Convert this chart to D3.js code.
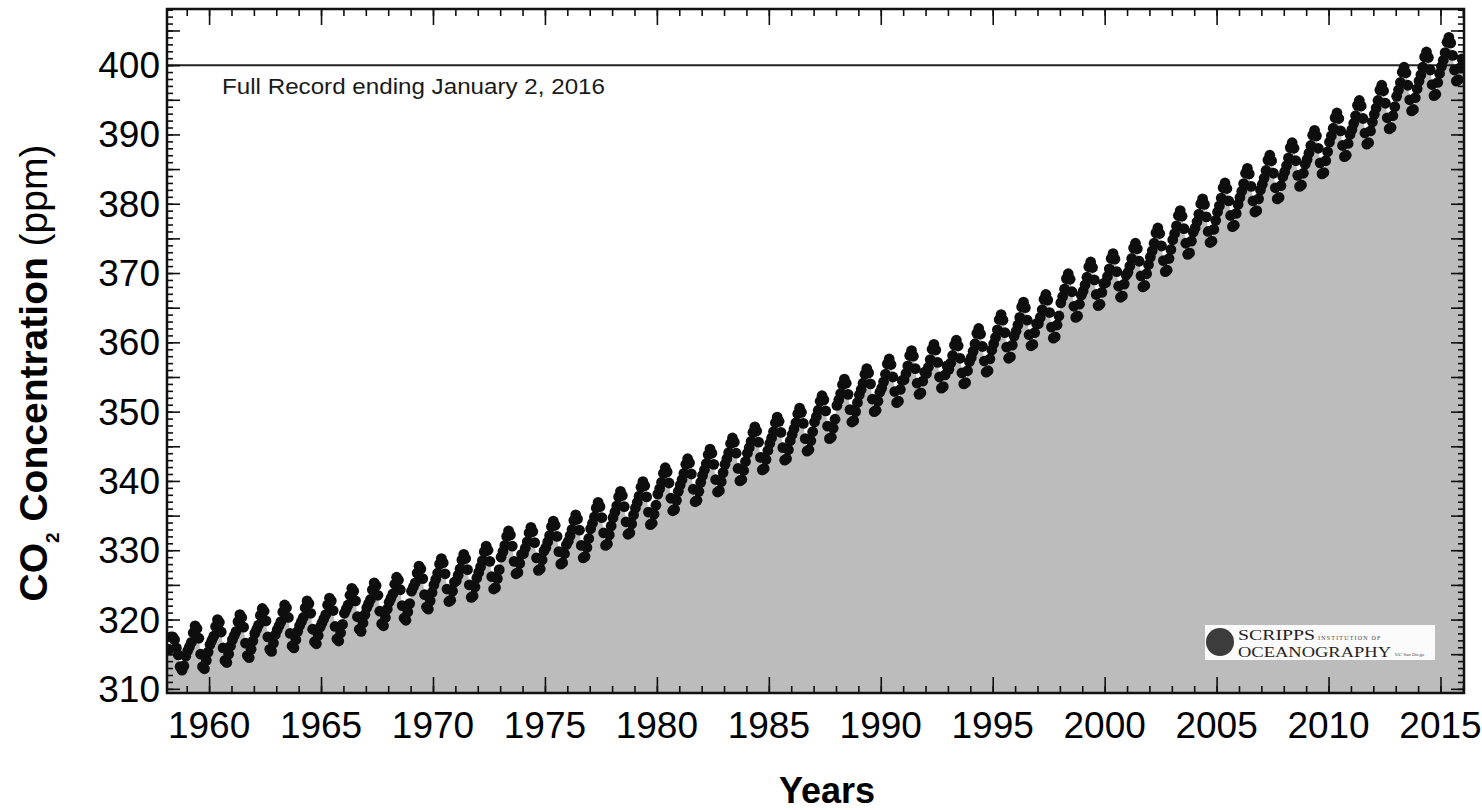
<!DOCTYPE html>
<html lang="en">
<head>
<meta charset="UTF-8">
<title>Keeling Curve – Full Record</title>
<script src="https://d3js.org/d3.v7.min.js"></script>
<style>
  body { margin: 0; background: #fff; }
  svg { display: block; font-family: "Liberation Sans", Arial, Helvetica, sans-serif; }
</style>
</head>
<body>
<script>
// Monthly CO2 (ppm), one array per month, indexed by year
const years = [1958, 1959, 1960, 1961, 1962, 1963, 1964, 1965, 1966, 1967, 1968, 1969,
  1970, 1971, 1972, 1973, 1974, 1975, 1976, 1977, 1978, 1979, 1980, 1981, 1982, 1983, 1984,
  1985, 1986, 1987, 1988, 1989, 1990, 1991, 1992, 1993, 1994, 1995, 1996, 1997, 1998, 1999,
  2000, 2001, 2002, 2003, 2004, 2005, 2006, 2007, 2008, 2009, 2010, 2011, 2012, 2013, 2014, 2015];

const jan = [null, 315.5, 316.4, 317.1, 318.0, 318.5, 319.1, 319.5, 320.9, 321.7, 322.5, 324.1,
  325.0, 325.6, 326.8, 329.0, 329.5, 330.4, 331.3, 333.1, 334.7, 336.1, 338.1, 339.4, 340.8, 342.4, 344.0, 345.4, 346.7, 348.5, 350.9, 352.4,
  353.4, 354.6, 355.5, 356.1, 357.8, 359.8, 361.6, 362.7, 365.7, 367.4, 368.6, 370.1, 372.3, 374.8, 376.5, 378.8, 380.9, 382.8, 384.6, 386.4, 388.9, 390.7, 392.9, 395.5, 397.7, 399.8];
const feb = [null, 316.1, 317.0, 317.7, 318.6, 319.1, 319.7, 320.1, 321.5, 322.3, 323.1, 324.7,
  325.8, 326.4, 327.6, 329.8, 330.3, 331.2, 332.1, 333.9, 335.5, 336.9, 338.9, 340.2, 341.6, 343.2, 344.8, 346.2, 347.5, 349.3, 351.7, 353.2,
  354.3, 355.5, 356.4, 357.0, 358.7, 360.7, 362.5, 363.6, 366.6, 368.3, 369.5, 371.0, 373.2, 375.7, 377.4, 379.7, 381.8, 383.7, 385.5, 387.3, 389.8, 391.6, 393.8, 396.4, 398.6, 400.7];
const mar = [315.7, 316.7, 317.6, 318.3, 319.2, 319.7, 320.3, 320.7, 322.1, 322.9, 323.7, 325.3,
  326.7, 327.3, 328.5, 330.7, 331.2, 332.1, 333.0, 334.8, 336.4, 337.8, 339.8, 341.1, 342.5, 344.1, 345.7, 347.1, 348.4, 350.2, 352.6, 354.1,
  355.4, 356.6, 357.5, 358.1, 359.8, 361.8, 363.6, 364.7, 367.7, 369.4, 370.6, 372.1, 374.3, 376.8, 378.5, 380.8, 382.9, 384.8, 386.6, 388.4, 390.9, 392.7, 394.9, 397.5, 399.7, 401.8];
const apr = [317.5, 318.1, 319.0, 319.7, 320.6, 321.1, 321.7, 322.1, 323.5, 324.3, 325.1, 326.7,
  328.0, 328.6, 329.8, 332.0, 332.5, 333.4, 334.3, 336.1, 337.7, 339.1, 341.1, 342.4, 343.8, 345.4, 347.0, 348.4, 349.7, 351.5, 353.9, 355.4,
  356.9, 358.1, 359.0, 359.6, 361.3, 363.3, 365.1, 366.2, 369.2, 370.9, 372.1, 373.6, 375.8, 378.3, 380.0, 382.3, 384.4, 386.3, 388.1, 389.9, 392.4, 394.2, 396.4, 399.0, 401.2, 403.3];
const may = [317.5, 319.1, 320.0, 320.7, 321.6, 322.1, 322.7, 323.1, 324.5, 325.3, 326.1, 327.7,
  328.8, 329.4, 330.6, 332.8, 333.3, 334.2, 335.1, 336.9, 338.5, 339.9, 341.9, 343.2, 344.6, 346.2, 347.8, 349.2, 350.5, 352.3, 354.7, 356.2,
  357.6, 358.8, 359.7, 360.3, 362.0, 364.0, 365.8, 366.9, 369.9, 371.6, 372.8, 374.3, 376.5, 379.0, 380.7, 383.0, 385.1, 387.0, 388.8, 390.6, 393.1, 394.9, 397.1, 399.7, 401.9, 404.0];
const jun = [317.1, 318.7, 319.6, 320.3, 321.2, 321.7, 322.3, 322.7, 324.1, 324.9, 325.7, 327.3,
  328.2, 328.8, 330.0, 332.2, 332.7, 333.6, 334.5, 336.3, 337.9, 339.3, 341.3, 342.6, 344.0, 345.6, 347.2, 348.6, 349.9, 351.7, 354.1, 355.6,
  356.8, 358.0, 358.9, 359.5, 361.2, 363.2, 365.0, 366.1, 369.1, 370.8, 372.0, 373.5, 375.7, 378.2, 379.9, 382.2, 384.3, 386.2, 388.0, 389.8, 392.3, 394.1, 396.3, 398.9, 401.1, 403.2];
const jul = [315.9, 317.3, 318.2, 318.9, 319.8, 320.3, 320.9, 321.3, 322.7, 323.5, 324.3, 325.9,
  326.6, 327.2, 328.4, 330.6, 331.1, 332.0, 332.9, 334.7, 336.3, 337.7, 339.7, 341.0, 342.4, 344.0, 345.6, 347.0, 348.3, 350.1, 352.5, 354.0,
  355.0, 356.2, 357.1, 357.7, 359.4, 361.4, 363.2, 364.3, 367.3, 369.0, 370.2, 371.7, 373.9, 376.4, 378.1, 380.4, 382.5, 384.4, 386.2, 388.0, 390.5, 392.3, 394.5, 397.1, 399.3, 401.4];
const aug = [314.9, 315.0, 315.9, 316.6, 317.5, 318.0, 318.6, 319.0, 320.4, 321.2, 322.0, 323.6,
  324.4, 325.0, 326.2, 328.4, 328.9, 329.8, 330.7, 332.5, 334.1, 335.5, 337.5, 338.8, 340.2, 341.8, 343.4, 344.8, 346.1, 347.9, 350.3, 351.8,
  352.9, 354.1, 355.0, 355.6, 357.3, 359.3, 361.1, 362.2, 365.2, 366.9, 368.1, 369.6, 371.8, 374.3, 376.0, 378.3, 380.4, 382.3, 384.1, 385.9, 388.4, 390.2, 392.4, 395.0, 397.2, 399.3];
const sep = [313.2, 313.2, 314.1, 314.8, 315.7, 316.2, 316.8, 317.2, 318.6, 319.4, 320.2, 321.8,
  322.6, 323.2, 324.4, 326.6, 327.1, 328.0, 328.9, 330.7, 332.3, 333.7, 335.7, 337.0, 338.4, 340.0, 341.6, 343.0, 344.3, 346.1, 348.5, 350.0,
  351.3, 352.5, 353.4, 354.0, 355.7, 357.7, 359.5, 360.6, 363.6, 365.3, 366.5, 368.0, 370.2, 372.7, 374.4, 376.7, 378.8, 380.7, 382.5, 384.3, 386.8, 388.6, 390.8, 393.4, 395.6, 397.7];
const oct = [312.7, 312.9, 313.8, 314.5, 315.4, 315.9, 316.5, 316.9, 318.3, 319.1, 319.9, 321.5,
  322.8, 323.4, 324.6, 326.8, 327.3, 328.2, 329.1, 330.9, 332.5, 333.9, 335.9, 337.2, 338.6, 340.2, 341.8, 343.2, 344.5, 346.3, 348.7, 350.2,
  351.5, 352.7, 353.6, 354.2, 355.9, 357.9, 359.7, 360.8, 363.8, 365.5, 366.7, 368.2, 370.4, 372.9, 374.6, 376.9, 379.0, 380.9, 382.7, 384.5, 387.0, 388.8, 391.0, 393.6, 395.8, 397.9];
const nov = [313.3, 314.1, 315.0, 315.7, 316.6, 317.1, 317.7, 318.1, 319.5, 320.3, 321.1, 322.7,
  324.1, 324.7, 325.9, 328.1, 328.6, 329.5, 330.4, 332.2, 333.8, 335.2, 337.2, 338.5, 339.9, 341.5, 343.1, 344.5, 345.8, 347.6, 350.0, 351.5,
  353.2, 354.4, 355.3, 355.9, 357.6, 359.6, 361.4, 362.5, 365.5, 367.2, 368.4, 369.9, 372.1, 374.6, 376.3, 378.6, 380.7, 382.6, 384.4, 386.2, 388.7, 390.5, 392.7, 395.3, 397.5, 399.6];
const dec = [314.7, 315.3, 316.2, 316.9, 317.8, 318.3, 318.9, 319.3, 320.7, 321.5, 322.3, 323.9,
  325.4, 326.0, 327.2, 329.4, 329.9, 330.8, 331.7, 333.5, 335.1, 336.5, 338.5, 339.8, 341.2, 342.8, 344.4, 345.8, 347.1, 348.9, 351.3, 352.8,
  354.5, 355.7, 356.6, 357.2, 358.9, 360.9, 362.7, 363.8, 366.8, 368.5, 369.7, 371.2, 373.4, 375.9, 377.6, 379.9, 382.0, 383.9, 385.7, 387.5, 390.0, 391.8, 394.0, 396.6, 398.8, 400.9];

const months = [jan, feb, mar, apr, may, jun, jul, aug, sep, oct, nov, dec];

const xTickLabels = [1960, 1965, 1970, 1975, 1980, 1985, 1990, 1995, 2000, 2005, 2010, 2015];
const yTickLabels = [310, 320, 330, 340, 350, 360, 370, 380, 390, 400];
const refLevel = 400;
const noteText = "Full Record ending January 2, 2016";

const width = 1482;
const height = 810;
const plot = { left: 167, right: 1464, top: 9, bottom: 693 };

// monthly points, placed mid-month
const series = [];
years.forEach((yr, i) => {
    months.forEach((col, m) => {
        if (col[i] != null) series.push({ t: yr + (m + 0.5) / 12, v: col[i] });
    });
});

const x = d3.scaleLinear().domain([1958.12, 2016.05]).range([plot.left, plot.right]);
const y = d3.scaleLinear().domain([309.4, 408.1]).range([plot.bottom, plot.top]);

const svg = d3.select("body").append("svg")
    .attr("width", width)
    .attr("height", height);

svg.append("rect").attr("width", width).attr("height", height).attr("fill", "#fff");

svg.append("clipPath").attr("id", "clip")
    .append("rect")
    .attr("x", plot.left).attr("y", plot.top)
    .attr("width", plot.right - plot.left).attr("height", plot.bottom - plot.top);

const g = svg.append("g").attr("clip-path", "url(#clip)");

// grey fill under the record
const area = d3.area()
    .x(d => x(d.t))
    .y0(plot.bottom)
    .y1(d => y(d.v));

const filled = [{ t: x.domain()[0], v: series[0].v }, ...series, { t: x.domain()[1], v: series[series.length - 1].v }];
g.append("path")
    .datum(filled)
    .attr("d", area)
    .attr("fill", "#bcbcbc");

// 400 ppm line
g.append("line")
    .attr("x1", plot.left).attr("x2", plot.right)
    .attr("y1", y(refLevel)).attr("y2", y(refLevel))
    .attr("stroke", "#222")
    .attr("stroke-width", 2);

g.selectAll("circle.pt")
    .data(series)
    .enter().append("circle")
    .attr("class", "pt")
    .attr("cx", d => x(d.t))
    .attr("cy", d => y(d.v))
    .attr("r", 5.4)
    .attr("fill", "#0e0e0e");

// Scripps logo
const serif = "'Liberation Serif', 'DejaVu Serif', serif";
const logo = svg.append("g");
logo.append("rect").attr("x", 1205).attr("y", 625).attr("width", 230).attr("height", 35).attr("fill", "#fbfbfb");
logo.append("circle").attr("cx", 1220).attr("cy", 642).attr("r", 14).attr("fill", "#3c3c3c");
logo.append("text").attr("x", 1238).attr("y", 640)
    .style("font-family", serif).style("font-size", "14px").attr("fill", "#222")
    .attr("textLength", 77).attr("lengthAdjust", "spacingAndGlyphs")
    .text("SCRIPPS");
logo.append("text").attr("x", 1318).attr("y", 640)
    .style("font-family", serif).style("font-size", "6px").attr("letter-spacing", 1.2).attr("fill", "#444")
    .text("INSTITUTION OF");
logo.append("text").attr("x", 1238).attr("y", 657)
    .style("font-family", serif).style("font-size", "14px").attr("fill", "#222")
    .attr("textLength", 153).attr("lengthAdjust", "spacingAndGlyphs")
    .text("OCEANOGRAPHY");
logo.append("text").attr("x", 1395).attr("y", 656)
    .style("font-family", serif).style("font-size", "5px").attr("fill", "#444")
    .text("UC San Diego");

// ticks, all pointing inward
function tickStyle(sel) {
    sel.select(".domain").remove();
    sel.selectAll("line").attr("stroke", "#111").attr("stroke-width", 1.6);
    sel.selectAll("text").remove();
}
const minorYears = d3.range(1959, 2017);
const majorYears = xTickLabels;
svg.append("g").attr("transform", `translate(0,${plot.bottom})`)
    .call(d3.axisBottom(x).tickValues(minorYears).tickSize(-7)).call(tickStyle);
svg.append("g").attr("transform", `translate(0,${plot.bottom})`)
    .call(d3.axisBottom(x).tickValues(majorYears).tickSize(-16)).call(tickStyle);
svg.append("g").attr("transform", `translate(0,${plot.top})`)
    .call(d3.axisTop(x).tickValues(minorYears).tickSize(-7)).call(tickStyle);
svg.append("g").attr("transform", `translate(0,${plot.top})`)
    .call(d3.axisTop(x).tickValues(majorYears).tickSize(-16)).call(tickStyle);

const minorPpm = d3.range(310, 409);
const majorPpm = d3.range(310, 409, 5);
svg.append("g").attr("transform", `translate(${plot.left},0)`)
    .call(d3.axisLeft(y).tickValues(minorPpm).tickSize(-6)).call(tickStyle);
svg.append("g").attr("transform", `translate(${plot.left},0)`)
    .call(d3.axisLeft(y).tickValues(majorPpm).tickSize(-13)).call(tickStyle);
svg.append("g").attr("transform", `translate(${plot.right},0)`)
    .call(d3.axisRight(y).tickValues(minorPpm).tickSize(-6)).call(tickStyle);
svg.append("g").attr("transform", `translate(${plot.right},0)`)
    .call(d3.axisRight(y).tickValues(majorPpm).tickSize(-13)).call(tickStyle);

// frame
svg.append("rect")
    .attr("x", plot.left).attr("y", plot.top)
    .attr("width", plot.right - plot.left).attr("height", plot.bottom - plot.top)
    .attr("fill", "none").attr("stroke", "#111").attr("stroke-width", 2.5);

// tick labels
svg.selectAll("text.xl")
    .data(xTickLabels)
    .enter().append("text")
    .attr("class", "xl")
    .attr("x", d => x(d))
    .attr("y", 738)
    .attr("text-anchor", "middle")
    .style("font-size", "37px")
    .text(d => d);

svg.selectAll("text.yl")
    .data(yTickLabels)
    .enter().append("text")
    .attr("class", "yl")
    .attr("x", 160)
    .attr("y", d => y(d) + 13)
    .attr("text-anchor", "end")
    .style("font-size", "37px")
    .text(d => d);

svg.append("text")
    .attr("x", 222).attr("y", 94)
    .style("font-size", "22px")
    .attr("textLength", 383).attr("lengthAdjust", "spacingAndGlyphs")
    .attr("fill", "#1a1a1a")
    .text(noteText);

// axis titles
svg.append("text")
    .attr("x", 827).attr("y", 803)
    .attr("text-anchor", "middle")
    .style("font-size", "36px").style("font-weight", "bold")
    .text("Years");

const yt = svg.append("text")
    .attr("transform", "translate(47,373) rotate(-90)")
    .attr("text-anchor", "middle")
    .style("font-size", "39px");
yt.append("tspan").style("font-weight", "bold").text("CO");
yt.append("tspan").style("font-weight", "bold").style("font-size", "19px").attr("dy", 12).text("2");
yt.append("tspan").style("font-weight", "bold").attr("dy", -12).text(" Concentration");
yt.append("tspan").text(" (ppm)");
</script>
</body>
</html>
